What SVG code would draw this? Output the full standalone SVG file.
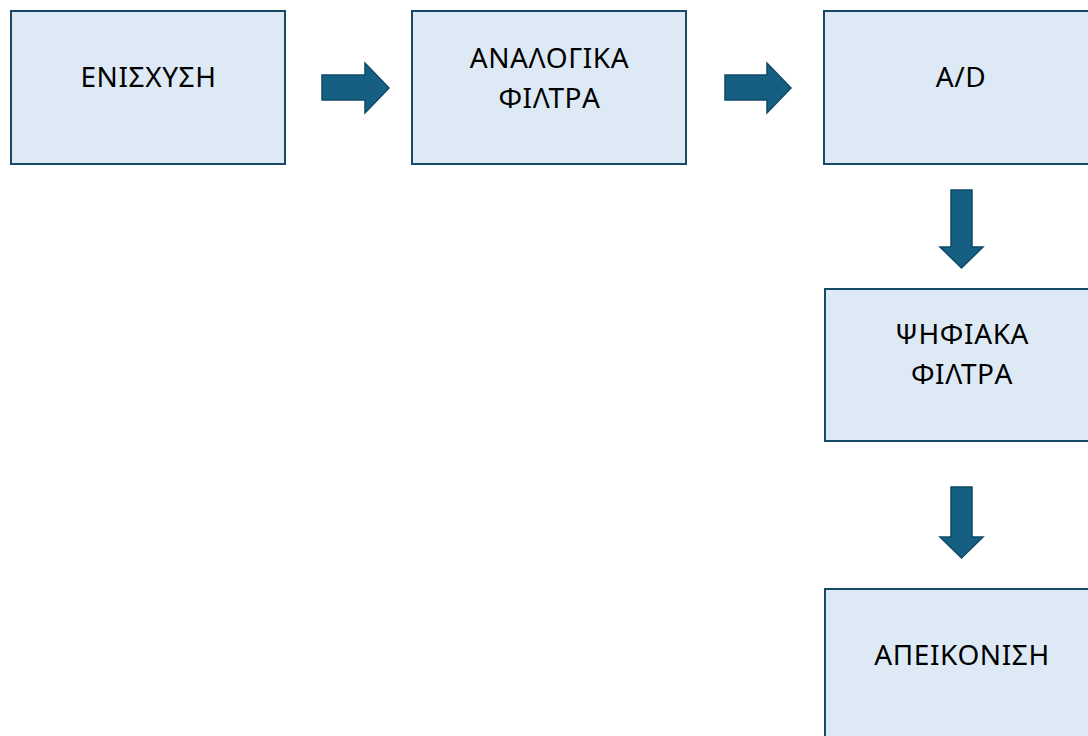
<svg xmlns="http://www.w3.org/2000/svg" width="1088" height="736" viewBox="0 0 1088 736">
<style>
.box{fill:#DDEAF6;stroke:#174A66;stroke-width:2}
.arr{fill:#156082;stroke:#0F4A65;stroke-width:1.5;stroke-linejoin:miter}
.t{font-family:"Noto Sans","Open Sans","DejaVu Sans",sans-serif;font-size:28px;letter-spacing:0.6px;fill:#000;text-anchor:middle}
</style>
<rect width="1088" height="736" fill="#FFFFFF"/>
<g id="n1"><rect class="box" x="11" y="11" width="274" height="153"/><text class="t" x="148.5" y="87">ΕΝΙΣΧΥΣΗ</text></g>
<g id="n2"><rect class="box" x="412" y="11" width="274" height="153"/><text class="t" x="549.5" y="68">ΑΝΑΛΟΓΙΚΑ</text><text class="t" x="549.5" y="108">ΦΙΛΤΡΑ</text></g>
<g id="n3"><rect class="box" x="824" y="11" width="274" height="153"/><text class="t" x="961" y="87">A/D</text></g>
<g id="n4"><rect class="box" x="825" y="289" width="274" height="152"/><text class="t" x="962" y="344">ΨΗΦΙΑΚΑ</text><text class="t" x="962" y="384">ΦΙΛΤΡΑ</text></g>
<g id="n5"><rect class="box" x="825" y="589" width="274" height="160"/><text class="t" x="962" y="665">ΑΠΕΙΚΟΝΙΣΗ</text></g>
<g id="connectors">
<path class="arr" d="M322 75 H365 V63 L389 88 L365 113 V100 H322 Z"/>
<path class="arr" d="M725 75 H767 V63 L791 88 L767 113 V100 H725 Z"/>
<path class="arr" d="M951 190 H972 V247 H983 L961.5 268 L940 247 H951 Z"/>
<path class="arr" d="M951 487 H972 V537 H983 L961.5 558 L940 537 H951 Z"/>
</g>
</svg>
